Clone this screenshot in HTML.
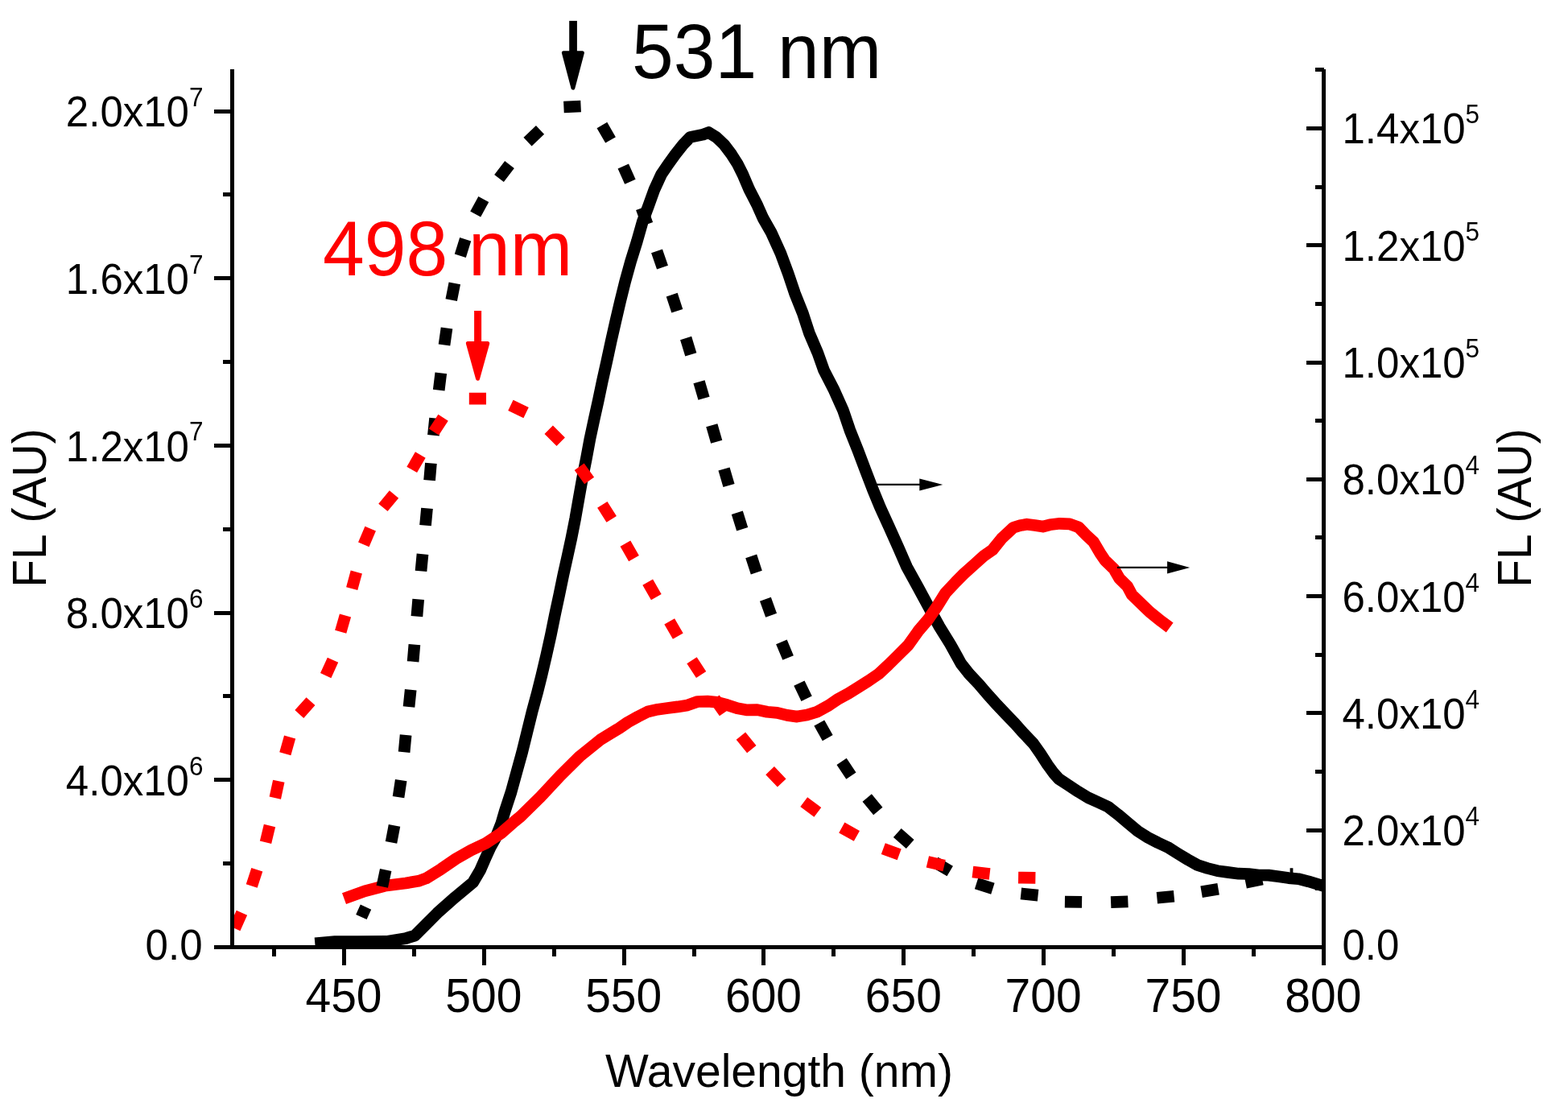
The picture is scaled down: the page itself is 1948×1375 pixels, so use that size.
<!DOCTYPE html>
<html lang="en">
<head>
<meta charset="utf-8">
<title>Fluorescence spectra</title>
<style>
html,body{margin:0;padding:0;background:#fff;}
body{width:1948px;height:1375px;overflow:hidden;}
svg{display:block;}
text{font-family:"Liberation Sans", sans-serif;}
</style>
</head>
<body>
<svg width="1948" height="1375" viewBox="0 0 1948 1375" role="img" aria-label="Fluorescence spectra versus wavelength">
<rect x="0" y="0" width="1948" height="1375" fill="#ffffff"/>
<defs><clipPath id="plot"><rect x="288.5" y="0" width="1356.0" height="1179"/></clipPath></defs>
<g clip-path="url(#plot)">
<!-- black solid spectrum -->
<polyline points="391.3,1171.7 416,1169.6 444.4,1169.6 480,1169.4 504.7,1165.4 515.2,1162.2 529.7,1147.7 543.3,1134.1 565.6,1114.3 587.5,1096.2 596.5,1081 603,1066.1 609.2,1052.5 615.4,1041.4 622.8,1022.8 627,1008.4 635.1,983.6 641.9,958.9 648.7,934.2 654.8,909.5 660.9,884.7 667.6,860 673,838.4 678.8,813.6 684.3,788.9 689.3,764.2 694.6,739.5 699.7,714.7 705.2,690 709.9,668.4 714.8,643.6 719.1,618.9 723.5,594.2 728.4,569.5 733,544.7 738.3,520 743.1,498.4 748.3,473.6 753.8,448.9 759.1,424.2 764.7,399.5 770.5,374.7 776.6,350 783.5,325 791.3,300 798.1,275.9 805.5,256.1 813.1,235.1 821.6,216.6 830.1,204.2 839,191.8 848.7,179.5 857.5,170.4 873.5,167.1 880.3,164.5 890,170.5 899.5,179.5 908.8,191.8 916.6,204.2 922.8,216.6 930.7,235.1 940.2,253.6 948,271 957.9,288.3 969.9,314.7 979.1,339.5 987.4,364.2 997.3,388.9 1005.3,413.6 1015.9,438.4 1023.6,460 1036.3,484.7 1047.4,509.5 1055.8,534.2 1065.7,558.9 1075,583.6 1084.5,608.4 1093.4,630 1104.7,654.7 1115.8,679.5 1126.6,704.2 1140.2,728.9 1153.5,753.6 1167.1,778.4 1180.5,800 1187.4,812.4 1194.2,824.7 1204.1,837.1 1215.8,849.5 1226.3,861.8 1237.5,874.2 1249.2,886.6 1261,898.9 1272.1,911.3 1283.8,923.6 1292.5,936 1301.5,950 1309.2,960.5 1315.5,967.5 1327.1,975.1 1339.5,983.3 1351.8,990.7 1364.2,996.4 1376.6,1002.1 1388.9,1011.7 1401.3,1022.2 1413.6,1032.4 1426,1040.2 1438.4,1046.6 1450.7,1052.3 1463.1,1060.1 1475.5,1067.6 1487.8,1074.5 1500.2,1078.5 1512.6,1081.7 1526.6,1083.6 1538.9,1085.2 1551.3,1085.5 1563.6,1087 1576,1087.1 1588.4,1088.7 1600.7,1090.6 1613.1,1091.7 1625.5,1094.8 1637.8,1098.5 1647,1101.3" fill="none" stroke="#000000" stroke-width="14.7" stroke-linejoin="round" stroke-linecap="butt"/>
<path d="M1602.6 1086V1078.2H1606.4V1086Z" fill="#000000"/>
<!-- red solid spectrum -->
<polyline points="427.5,1116.1 453.1,1106.8 478,1100.3 504,1097 520,1094.3 529.5,1090.9 548,1079.4 566.6,1066.6 585.1,1056.1 603.6,1047.4 622.2,1035.1 639.5,1020 646.6,1014.2 671.3,990.1 696,963.5 720.7,939.1 745.5,919.1 770.2,903.9 780,897.1 792.4,890.3 804.7,884 817.1,881.2 829.5,879.5 841.8,877.9 854.2,875.9 866.6,871.5 878.9,871.1 891.3,872.3 903.6,875.7 916,879.8 928.4,881.9 940.7,881.6 953.1,884.3 965.5,885.4 977.8,888.4 990.2,890.1 1002.6,888 1014.9,884.2 1029.5,876.3 1041.8,867.9 1054.2,861.3 1066.6,853.6 1078.9,845.8 1091.3,837.3 1103.6,825.9 1116,813.6 1128.4,801.2 1140.7,783.9 1153.1,769.4 1164,753.5 1174.6,736.5 1187.5,722.7 1197.4,712.8 1210.4,701.1 1222.2,690.6 1233,683 1244.6,668.7 1259.1,655.2 1267.1,652.8 1275.7,651.2 1285.6,652.5 1295.5,654.1 1304.2,651.8 1316.6,650.3 1328.9,650.9 1340,654.9 1349.3,664.5 1358.6,673.2 1366.6,686.8 1372.8,696 1383.9,706.8 1390.7,718.5 1400.6,728.2 1406.2,738.7 1417.3,749.5 1428.5,760.3 1442.7,771.7 1453.2,779.5" fill="none" stroke="#ff0000" stroke-width="14.7" stroke-linejoin="round" stroke-linecap="butt"/>
<!-- black dotted spectrum -->
<path d="M448.9 1139L454.5 1126.6M474.8 1101.3L479.2 1080.4M486 1046.3L490 1025.3M495 990.2L498.2 969.2M502.1 934.2L504.1 913M508 878L510.2 856.8M513.1 821.8L514.9 800.6M517.9 765.6L519.7 744.4M523 709.4L525 688.2M528.5 652.6L530.5 631.4M533.6 596.6L535.4 575.4M538.4 540.8L540.6 519.6M545.2 484.6L547.8 463.4M552 428.5L555 407.5M560.7 372.7L564.8 351.8M571.8 317.7L578.2 297.3M590.7 266.1L600.8 247.4M620 221.5L633 204.5M655.5 176.1L671 161.4M700.4 133L721.6 132M747.9 155.5L758.5 173.9M774.3 206.4L782.9 225.8M797 258.6L804.2 278.6M816 311.9L823 332.1M834.7 366.1L841.3 386.3M852.1 420L858.3 440.4M868.5 474.3L874.5 494.7M884.3 528.3L890.2 548.7M899.5 582.5L905.5 603M915.8 636.8L922.2 657.2M933.2 690.9L939.8 711.1M950.9 744.2L958.1 764.3M970.9 797.4L979.1 817M992.9 848.6L1002.1 867.8M1017.8 898L1028.2 916.6M1045.6 945.9L1057.4 963.6M1077.2 991L1090.8 1007.5M1114.8 1034.4L1130.7 1048.6M1161.8 1071.2L1180.2 1082M1213.1 1097.3L1233.4 1103.7M1268.4 1109.9L1289.6 1112.1M1322.9 1120.1L1344.1 1120.4M1380.1 1120.7L1401.4 1119.8M1437.4 1115.3L1458.6 1113.3M1492.6 1107.8L1513.6 1104.2M1547.4 1096.2L1568.2 1092" fill="none" stroke="#000000" stroke-width="14.7" stroke-linecap="butt"/>
<!-- red dotted spectrum -->
<path d="M291.7 1153.2L300.4 1133.8M312.7 1100.5L319.3 1080.3M330 1046.3L335 1025.5M341.8 991.1L346.3 970.3M354.3 936.2L360.1 915.6M371.8 887L386 871.2M404.7 839.1L413.5 819.7M423.2 784.8L429 764.4M437.2 731.1L442.8 710.5M451.8 676.3L460.2 656.7M475.9 630.4L489.5 614M511.7 583.4L522.3 565M539 536.5L550.6 518.7M582.8 495.1L604 495.1M634.4 503.4L653.6 512.6M681.7 533.8L696.7 548.8M719.7 579.7L732.1 597.1M748.3 626.9L759.7 644.9M776.9 675.2L787.5 693.6M804.7 723.1L815.3 741.7M831.7 771.8L842.3 790.2M859.5 820.2L871.1 838M887.7 867.7L899.9 885.1M920.4 914.1L933.8 930.7M956.6 957.1L971.2 972.5M998.7 996.1L1015.8 1008.9M1045.8 1028L1064.4 1038.4M1097.3 1054.1L1117.2 1061.4M1152.4 1070.3L1173.1 1075.2M1208.4 1083L1229.6 1085.5M1265.1 1090.1L1286.4 1090.4" fill="none" stroke="#ff0000" stroke-width="14.7" stroke-linecap="butt"/>
</g>
<g fill="#000000" shape-rendering="crispEdges">
<rect x="286" y="86" width="5" height="1093"/>
<rect x="1642" y="86" width="5" height="1113"/>
<rect x="266" y="1174" width="1381" height="5"/>
<rect x="277" y="1070" width="10" height="5"/>
<rect x="266" y="966" width="21" height="5"/>
<rect x="277" y="862" width="10" height="5"/>
<rect x="266" y="759" width="21" height="5"/>
<rect x="277" y="655" width="10" height="5"/>
<rect x="266" y="551" width="21" height="5"/>
<rect x="277" y="447" width="10" height="5"/>
<rect x="266" y="343" width="21" height="5"/>
<rect x="277" y="239" width="10" height="5"/>
<rect x="266" y="136" width="21" height="5"/>
<rect x="1634" y="1101" width="9" height="5"/>
<rect x="1623" y="1029" width="20" height="5"/>
<rect x="1634" y="956" width="9" height="5"/>
<rect x="1623" y="883" width="20" height="5"/>
<rect x="1634" y="811" width="9" height="5"/>
<rect x="1623" y="738" width="20" height="5"/>
<rect x="1634" y="665" width="9" height="5"/>
<rect x="1623" y="593" width="20" height="5"/>
<rect x="1634" y="520" width="9" height="5"/>
<rect x="1623" y="448" width="20" height="5"/>
<rect x="1634" y="375" width="9" height="5"/>
<rect x="1623" y="302" width="20" height="5"/>
<rect x="1634" y="230" width="9" height="5"/>
<rect x="1623" y="157" width="20" height="5"/>
<rect x="1634" y="84" width="11" height="5"/>
<rect x="338" y="1178" width="5" height="10"/>
<rect x="425" y="1178" width="5" height="21"/>
<rect x="512" y="1178" width="5" height="10"/>
<rect x="599" y="1178" width="5" height="21"/>
<rect x="686" y="1178" width="5" height="10"/>
<rect x="773" y="1178" width="5" height="21"/>
<rect x="860" y="1178" width="5" height="10"/>
<rect x="946" y="1178" width="5" height="21"/>
<rect x="1033" y="1178" width="5" height="10"/>
<rect x="1120" y="1178" width="5" height="21"/>
<rect x="1207" y="1178" width="5" height="10"/>
<rect x="1294" y="1178" width="5" height="21"/>
<rect x="1381" y="1178" width="5" height="10"/>
<rect x="1468" y="1178" width="5" height="21"/>
<rect x="1555" y="1178" width="5" height="10"/>
</g>
<text transform="translate(427,1257) scale(1,1.035)" font-size="57" text-anchor="middle" fill="#000000">450</text>
<text transform="translate(600.8,1257) scale(1,1.035)" font-size="57" text-anchor="middle" fill="#000000">500</text>
<text transform="translate(774.7,1257) scale(1,1.035)" font-size="57" text-anchor="middle" fill="#000000">550</text>
<text transform="translate(948.5,1257) scale(1,1.035)" font-size="57" text-anchor="middle" fill="#000000">600</text>
<text transform="translate(1122.3,1257) scale(1,1.035)" font-size="57" text-anchor="middle" fill="#000000">650</text>
<text transform="translate(1296.1,1257) scale(1,1.035)" font-size="57" text-anchor="middle" fill="#000000">700</text>
<text transform="translate(1470,1257) scale(1,1.035)" font-size="57" text-anchor="middle" fill="#000000">750</text>
<text transform="translate(1643.8,1257) scale(1,1.035)" font-size="57" text-anchor="middle" fill="#000000">800</text>
<text transform="translate(251.5,1192) scale(1,1.035)" font-size="51" text-anchor="end" fill="#000000">0.0</text>
<text transform="translate(252.5,987.8) scale(1,1.035)" font-size="51" text-anchor="end" fill="#000000">4.0x10<tspan font-size="31.5" dy="-24.2">6</tspan></text>
<text transform="translate(252.5,780.1) scale(1,1.035)" font-size="51" text-anchor="end" fill="#000000">8.0x10<tspan font-size="31.5" dy="-24.2">6</tspan></text>
<text transform="translate(252.5,572.5) scale(1,1.035)" font-size="51" text-anchor="end" fill="#000000">1.2x10<tspan font-size="31.5" dy="-24.2">7</tspan></text>
<text transform="translate(252.5,364.8) scale(1,1.035)" font-size="51" text-anchor="end" fill="#000000">1.6x10<tspan font-size="31.5" dy="-24.2">7</tspan></text>
<text transform="translate(252.5,157.1) scale(1,1.035)" font-size="51" text-anchor="end" fill="#000000">2.0x10<tspan font-size="31.5" dy="-24.2">7</tspan></text>
<text transform="translate(1667.5,1192) scale(1,1.035)" font-size="51" text-anchor="start" fill="#000000">0.0</text>
<text transform="translate(1667.5,1050.2) scale(1,1.035)" font-size="51" text-anchor="start" fill="#000000">2.0x10<tspan font-size="31.5" dy="-24.2">4</tspan></text>
<text transform="translate(1667.5,904.9) scale(1,1.035)" font-size="51" text-anchor="start" fill="#000000">4.0x10<tspan font-size="31.5" dy="-24.2">4</tspan></text>
<text transform="translate(1667.5,759.6) scale(1,1.035)" font-size="51" text-anchor="start" fill="#000000">6.0x10<tspan font-size="31.5" dy="-24.2">4</tspan></text>
<text transform="translate(1667.5,614.3) scale(1,1.035)" font-size="51" text-anchor="start" fill="#000000">8.0x10<tspan font-size="31.5" dy="-24.2">4</tspan></text>
<text transform="translate(1667.5,469) scale(1,1.035)" font-size="51" text-anchor="start" fill="#000000">1.0x10<tspan font-size="31.5" dy="-24.2">5</tspan></text>
<text transform="translate(1667.5,323.7) scale(1,1.035)" font-size="51" text-anchor="start" fill="#000000">1.2x10<tspan font-size="31.5" dy="-24.2">5</tspan></text>
<text transform="translate(1667.5,178.4) scale(1,1.035)" font-size="51" text-anchor="start" fill="#000000">1.4x10<tspan font-size="31.5" dy="-24.2">5</tspan></text>
<text transform="translate(968,1350)" font-size="57" text-anchor="middle" fill="#000000">Wavelength (nm)</text>
<text transform="translate(57.3,631) rotate(-90) scale(1,1.030)" font-size="57" text-anchor="middle" fill="#000000">FL (AU)</text>
<text transform="translate(1901.5,631) rotate(-90) scale(1,1.030)" font-size="57" text-anchor="middle" fill="#000000">FL (AU)</text>
<text transform="translate(785,97) scale(1,1.030)" font-size="93" text-anchor="start" fill="#000000">531 nm</text>
<text transform="translate(401,342) scale(1,1.030)" font-size="93" text-anchor="start" fill="#ff0000">498 nm</text>
<g stroke-linejoin="round" stroke-width="5">
<rect x="707.2" y="25.9" width="9.7" height="42" fill="#000000"/>
<path d="M700.4 65.7H723.4L711.9 109.2Z" fill="#000000" stroke="#000000"/>
<rect x="589.1" y="386" width="9" height="42" fill="#ff0000"/>
<path d="M581.4 426.5H605.7L593.55 470.3Z" fill="#ff0000" stroke="#ff0000"/>
</g>
<path d="M1088 600.7H1142.3V594.4L1171.3 601.9L1142.3 609.4V603.1H1088Z" fill="#000000"/>
<path d="M1388 703.7H1450.1V697.3L1478.2 704.9L1450.1 712.5V706.1H1388Z" fill="#000000"/>
</svg>
</body>
</html>
